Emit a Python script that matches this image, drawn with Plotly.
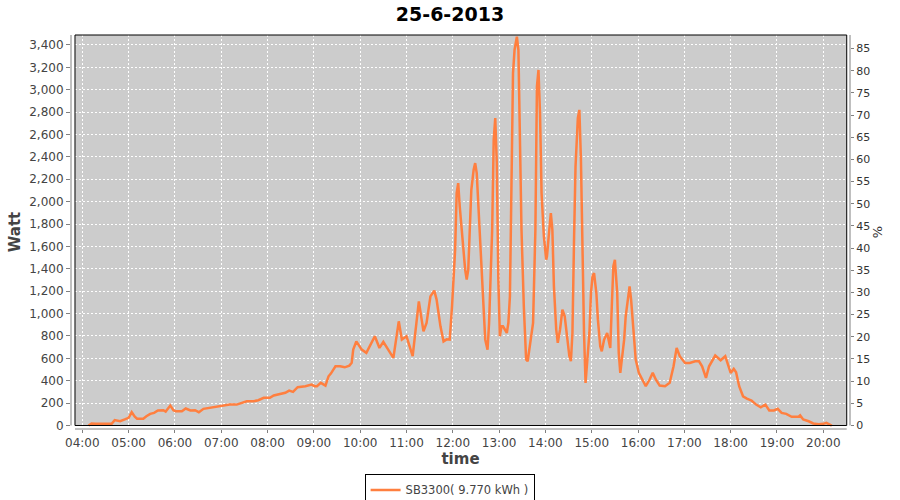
import plotly.graph_objects as go

# SB3300 Leistung am 25-6-2013 (Watt)
times = [
    "04:08", "04:12", "04:17", "04:25", "04:32", "04:38", "04:42", "04:49", "04:55", "05:00",
    "05:04", "05:08", "05:11", "05:19", "05:23", "05:28", "05:33", "05:38", "05:45", "05:48",
    "05:54", "05:58", "06:01", "06:09", "06:14", "06:20", "06:26", "06:31", "06:37", "06:45",
    "06:56", "07:03", "07:11", "07:20", "07:25", "07:33", "07:42", "07:48", "07:55", "08:03",
    "08:08", "08:16", "08:23", "08:28", "08:33", "08:39", "08:49", "08:57", "09:01", "09:04",
    "09:09", "09:15", "09:19", "09:22", "09:28", "09:34", "09:40", "09:46", "09:49", "09:51",
    "09:55", "10:02", "10:08", "10:19", "10:25", "10:30", "10:37", "10:43", "10:50", "10:54",
    "11:00", "11:08", "11:16", "11:22", "11:26", "11:31", "11:36", "11:39", "11:44", "11:48",
    "11:52", "11:56", "11:59", "12:03", "12:05", "12:07", "12:09", "12:11", "12:13", "12:16",
    "12:18", "12:20", "12:22", "12:24", "12:27", "12:29", "12:31", "12:33", "12:35", "12:39",
    "12:42", "12:45", "12:47", "12:51", "12:53", "12:55", "12:57", "12:59", "13:01", "13:03",
    "13:05", "13:10", "13:12", "13:14", "13:16", "13:18", "13:20", "13:23", "13:25", "13:27",
    "13:29", "13:32", "13:35", "13:37", "13:40", "13:44", "13:47", "13:49", "13:51", "13:53",
    "13:55", "13:58", "14:01", "14:02", "14:05", "14:07", "14:09", "14:11", "14:14", "14:16",
    "14:19", "14:22", "14:25", "14:28", "14:31", "14:33", "14:35", "14:37", "14:39", "14:42",
    "14:44", "14:46", "14:48", "14:50", "14:52", "14:54", "14:57", "14:59", "15:01", "15:03",
    "15:06", "15:08", "15:11", "15:13", "15:16", "15:20", "15:22", "15:24", "15:26", "15:28",
    "15:30", "15:33", "15:35", "15:37", "15:39", "15:42", "15:44", "15:47", "15:49", "15:51",
    "15:54", "15:57", "16:01", "16:06", "16:10", "16:15", "16:19", "16:23", "16:28", "16:35",
    "16:41", "16:46", "16:50", "16:54", "17:01", "17:07", "17:14", "17:19", "17:23", "17:28",
    "17:32", "17:40", "17:47", "17:53", "17:57", "18:00", "18:04", "18:07", "18:11", "18:16",
    "18:21", "18:27", "18:33", "18:39", "18:45", "18:50", "18:56", "19:01", "19:06", "19:12",
    "19:19", "19:28", "19:30", "19:34", "19:41", "19:47", "19:54", "20:00", "20:04", "20:09",
    "20:11",
]
watt = [
    0, 18, 15, 15, 15, 15, 48, 38, 54, 69,
    119, 78, 60, 60, 83, 104, 113, 134, 137, 125,
    178, 137, 128, 128, 152, 134, 137, 119, 149, 158,
    172, 181, 187, 187, 196, 217, 217, 226, 247, 247,
    268, 283, 292, 312, 301, 342, 351, 366, 351, 351,
    381, 357, 440, 464, 529, 529, 520, 535, 560, 678,
    752, 678, 649, 797, 693, 747, 672, 604, 931, 767,
    797, 619, 1109, 842, 917, 1154, 1205, 1125, 886, 752,
    770, 767, 1065, 1570, 2077, 2166, 1957, 1809, 1600, 1392,
    1303, 1392, 1749, 2106, 2285, 2344, 2255, 1987, 1600, 1095,
    767, 678, 917, 1749, 2552, 2746, 2344, 1303, 797, 886,
    886, 827, 917, 1154, 2047, 3147, 3355, 3474, 3355, 2641,
    1749, 1065, 589, 574, 708, 917, 1749, 3028, 3177, 2790,
    2077, 1689, 1481, 1511, 1749, 1898, 1749, 1243, 857, 738,
    860, 1035, 976, 767, 620, 574, 827, 1630, 2314, 2746,
    2820, 2374, 1362, 827, 381, 589, 827, 1184, 1332, 1362,
    1184, 946, 708, 663, 767, 827, 738, 693, 1065, 1422,
    1481, 1184, 649, 470, 589, 767, 976, 1154, 1243, 1125,
    886, 589, 470, 396, 351, 411, 470, 411, 357, 351,
    381, 529, 693, 619, 559, 559, 574, 574, 529, 425,
    529, 625, 583, 619, 529, 470, 506, 476, 351, 261,
    241, 223, 187, 163, 187, 134, 134, 149, 113, 104,
    78, 78, 90, 54, 38, 18, 12, 15, 24, 3,
    0,
]

day = "2013-06-25"
x = [f"{day} {t}" for t in times]

GRID = dict(showgrid=True, gridcolor="white", gridwidth=1, griddash="2px,2px")
TICKFONT = dict(family="DejaVu Sans", size=12, color="#444444")
TITLEFONT = dict(family="DejaVu Sans", size=15, color="#444444")

fig = go.Figure()

fig.add_trace(
    go.Scatter(
        x=x,
        y=watt,
        mode="lines",
        name="SB3300( 9.770 kWh )",
        line=dict(color="#ff7f3f", width=2.5),
    )
)
# leere Spur, damit die rechte %-Achse gezeichnet wird
fig.add_trace(go.Scatter(x=[], y=[], yaxis="y2", showlegend=False))

# Plotfläche (grau, mit Rahmen) etwas innerhalb der Achsen wie bei JFreeChart
fig.add_shape(type="rect", xref="paper", yref="paper",
              x0=0.00513, x1=0.9958, y0=0.0089, y1=1,
              fillcolor="#cccccc", line=dict(width=0), layer="below")
fig.add_shape(type="rect", xref="paper", yref="paper",
              x0=0.00513, x1=0.9958, y0=0.0089, y1=1,
              fillcolor="rgba(0,0,0,0)", line=dict(color="black", width=1), layer="above")
# Achsenlinien
fig.add_shape(type="line", xref="paper", yref="paper",
              x0=0, x1=0, y0=0.0089, y1=1, line=dict(color="#808080", width=1))
fig.add_shape(type="line", xref="paper", yref="paper",
              x0=1, x1=1, y0=0.0089, y1=1, line=dict(color="#808080", width=1))
fig.add_shape(type="line", xref="paper", yref="paper",
              x0=0.00513, x1=0.9958, y0=0, y1=0, line=dict(color="#808080", width=1))

fig.update_layout(
    width=900,
    height=500,
    margin=dict(l=71, r=50, t=35, b=70.5, autoexpand=False),
    paper_bgcolor="white",
    plot_bgcolor="rgba(0,0,0,0)",
    title=dict(text="<b>25-6-2013</b>", x=0.5, xanchor="center", y=0.972, yanchor="middle",
               font=dict(family="DejaVu Sans", size=19, color="black")),
    xaxis=dict(
        type="date",
        range=["2013-06-25 03:45:21", "2013-06-25 20:34:36"],
        dtick=3600000,
        tick0="2013-06-25 00:00",
        tickformat="%H:%M",
        ticks="outside", ticklen=3, tickcolor="#808080",
        tickfont=TICKFONT,
        showline=False, zeroline=False,
        title=dict(text="<b>time</b>", font=TITLEFONT, standoff=4),
        **GRID,
    ),
    yaxis=dict(
        range=[-31.2, 3489],
        dtick=200,
        tickformat=",d",
        ticks="outside", ticklen=4, tickcolor="#808080",
        tickfont=TICKFONT,
        showline=False, zeroline=False,
        title=dict(text="<b>Watt</b>", font=TITLEFONT, standoff=4),
        **GRID,
    ),
    yaxis2=dict(
        overlaying="y",
        side="right",
        range=[-0.79, 88.06],
        dtick=5,
        ticks="outside", ticklen=3, tickcolor="#808080",
        tickfont=dict(family="DejaVu Sans", size=11, color="#333333"),
        showgrid=False, showline=False, zeroline=False,
        title=dict(text="%", font=dict(family="DejaVu Sans", size=13, color="#333333"), standoff=2),
    ),
    showlegend=True,
    legend=dict(
        orientation="h",
        x=0.486, xanchor="center",
        y=-0.1153, yanchor="top",
        bordercolor="black", borderwidth=1,
        bgcolor="white",
        itemwidth=30,
        font=dict(family="DejaVu Sans", size=11.5, color="#444444"),
    ),
)

# Standard-Seitenrand des Browsers entfernen, damit 900x500 genau passt
fig.write_html(
    "out.html",
    config={"displayModeBar": False},
    post_script="document.body.style.margin='0';",
)
